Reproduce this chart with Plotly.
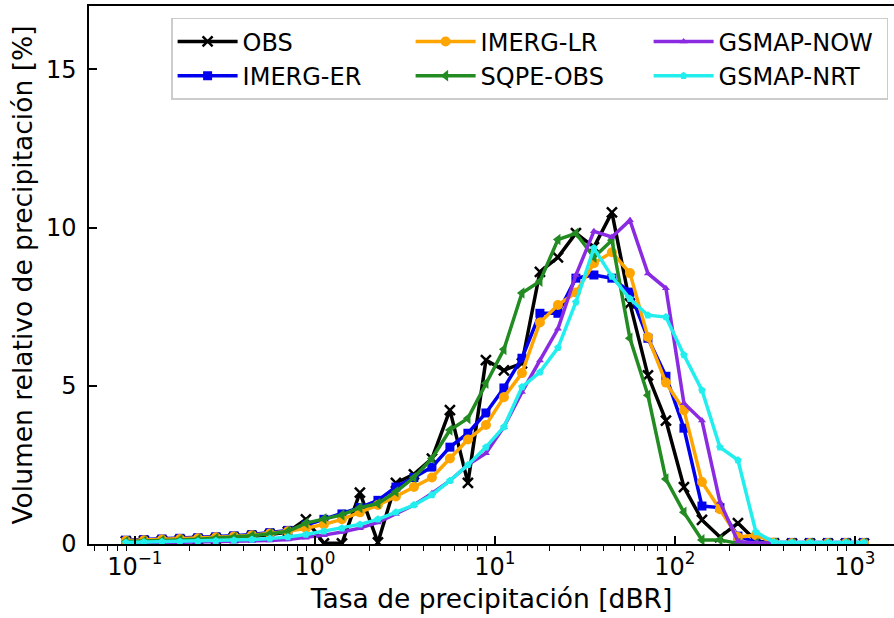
import plotly.graph_objects as go

# bin centres (precipitation rate)
rate = [0.0891, 0.1122, 0.1413, 0.1778, 0.2239, 0.2818, 0.3548, 0.4467, 0.5623, 0.7079,
        0.8913, 1.122, 1.413, 1.778, 2.239, 2.818, 3.548, 4.467, 5.623, 7.079,
        8.913, 11.22, 14.13, 17.78, 22.39, 28.18, 35.48, 44.67, 56.23, 70.79,
        89.13, 112.2, 141.3, 177.8, 223.9, 281.8, 354.8, 446.7, 562.3, 707.9,
        891.3, 1122.0]

obs = [0.08, 0.09, 0.10, 0.12, 0.14, 0.17, 0.20, 0.24, 0.30, 0.38,
       0.78, 0.02, 0.02, 1.62, 0.05, 1.93, 2.20, 2.70, 4.23, 1.93,
       5.81, 5.49, 5.71, 8.60, 9.06, 9.82, 9.38, 10.48, 7.60, 5.33,
       3.90, 1.80, 0.76, 0.22, 0.66, 0.10, 0.02, 0.01, 0.01, 0.01,
       0.01, 0.01]
imerg_er = [0.12, 0.14, 0.16, 0.18, 0.20, 0.23, 0.26, 0.30, 0.36, 0.43,
            0.60, 0.78, 0.95, 1.15, 1.38, 1.80, 2.10, 2.43, 3.06, 3.50,
            4.14, 4.93, 5.87, 7.29, 7.29, 8.40, 8.50, 8.40, 7.96, 6.50,
            5.30, 3.66, 1.20, 1.15, 0.25, 0.06, 0.05, 0.05, 0.05, 0.05,
            0.05, 0.05]
imerg_lr = [0.10, 0.12, 0.14, 0.16, 0.18, 0.21, 0.24, 0.28, 0.33, 0.40,
            0.50, 0.62, 0.78, 1.00, 1.23, 1.50, 1.80, 2.10, 2.70, 3.30,
            3.76, 4.64, 5.40, 7.00, 7.55, 7.95, 8.87, 9.22, 8.56, 6.54,
            5.10, 4.23, 1.96, 1.10, 0.22, 0.28, 0.05, 0.03, 0.03, 0.03,
            0.03, 0.03]
sqpe_obs = [0.08, 0.09, 0.11, 0.13, 0.15, 0.18, 0.21, 0.26, 0.32, 0.40,
            0.66, 0.80, 0.92, 1.15, 1.28, 1.65, 2.10, 2.70, 3.60, 3.97,
            5.08, 6.15, 7.93, 8.30, 9.62, 9.82, 9.06, 9.60, 6.50, 4.70,
            2.05, 1.00, 0.13, 0.13, 0.02, 0.02, 0.02, 0.02, 0.02, 0.02,
            0.02, 0.02]
gsmap_now = [0.02, 0.03, 0.03, 0.04, 0.05, 0.06, 0.07, 0.09, 0.11, 0.14,
             0.20, 0.28, 0.38, 0.50, 0.68, 0.95, 1.23, 1.60, 2.00, 2.50,
             2.87, 3.70, 4.80, 5.80, 6.80, 8.50, 9.88, 9.70, 10.23, 8.55,
             8.08, 4.45, 3.90, 1.33, 0.08, 0.03, 0.03, 0.03, 0.03, 0.03,
             0.03, 0.03]
gsmap_nrt = [0.05, 0.06, 0.07, 0.08, 0.09, 0.10, 0.12, 0.14, 0.17, 0.22,
             0.30, 0.40, 0.50, 0.62, 0.78, 1.00, 1.23, 1.55, 2.00, 2.50,
             3.06, 3.70, 4.96, 5.43, 6.20, 7.64, 9.35, 8.45, 7.75, 7.23,
             7.17, 5.97, 4.86, 3.06, 2.65, 0.38, 0.06, 0.05, 0.05, 0.05,
             0.05, 0.05]

series = [
    ("OBS", obs, "black", "x-thin", 10, 1),
    ("IMERG-ER", imerg_er, "#0000ee", "square", 9, 4),
    ("IMERG-LR", imerg_lr, "orange", "circle", 10, 2),
    ("SQPE-OBS", sqpe_obs, "forestgreen", "triangle-left", 10, 5),
    ("GSMAP-NOW", gsmap_now, "blueviolet", "triangle-up", 7, 3),
    ("GSMAP-NRT", gsmap_nrt, "#22eeee", "pentagon", 8, 6),
]

FONT = "DejaVu Sans"
fig = go.Figure()
for name, vals, color, sym, size, rank in series:
    mk = dict(symbol=sym, size=size, color=color)
    if sym == "x-thin":
        mk["line"] = dict(width=2.5, color=color)
    fig.add_trace(go.Scatter(
        x=rate, y=vals, name=name, mode="lines+markers",
        line=dict(color=color, width=3.5), marker=mk, legendrank=rank))

major = [0.1, 1, 10, 100, 1000]
major_txt = ["10<sup>\u22121</sup>", "10<sup>0</sup>", "10<sup>1</sup>",
             "10<sup>2</sup>", "10<sup>3</sup>"]
minor = [m * 10.0 ** e for e in range(-2, 4) for m in range(2, 10)]

fig.update_layout(
    width=894, height=618,
    margin=dict(l=89, r=0, t=6, b=74),
    paper_bgcolor="white", plot_bgcolor="white",
    font=dict(family=FONT, size=24, color="black"),
    showlegend=True,
    legend=dict(
        orientation="h", x=0.102, y=0.978, xanchor="left", yanchor="top",
        entrywidth=163, entrywidthmode="pixels", itemwidth=60,
        bgcolor="rgba(255,255,255,0.85)", bordercolor="#cccccc", borderwidth=1.5,
        font=dict(family=FONT, size=24, color="black"),
        traceorder="normal",
    ),
    xaxis=dict(
        type="log", range=[-1.255, 3.217],
        tickmode="array", tickvals=major, ticktext=major_txt,
        ticks="inside", ticklen=8, tickwidth=1.5, tickcolor="black",
        showline=True, linecolor="black", linewidth=1.5, mirror=True,
        showgrid=False, zeroline=False,
        tickfont=dict(family=FONT, size=24),
        minor=dict(tickmode="array", tickvals=minor, ticks="outside",
                   ticklen=5, tickwidth=1, tickcolor="black", showgrid=False),
        title=dict(text="Tasa de precipitación [dBR]", standoff=10,
                   font=dict(family=FONT, size=26.5)),
    ),
    yaxis=dict(
        range=[0, 17], tickmode="array", tickvals=[0, 5, 10, 15],
        ticks="inside", ticklen=8, tickwidth=1.5, tickcolor="black",
        showline=True, linecolor="black", linewidth=1.5, mirror=False,
        showgrid=False, zeroline=False, ticklabelstandoff=6,
        tickfont=dict(family=FONT, size=24),
        title=dict(text="Volumen relativo de precipitación [%]", standoff=6,
                   font=dict(family=FONT, size=26.5)),
    ),
)

fig.write_html("out.html")
